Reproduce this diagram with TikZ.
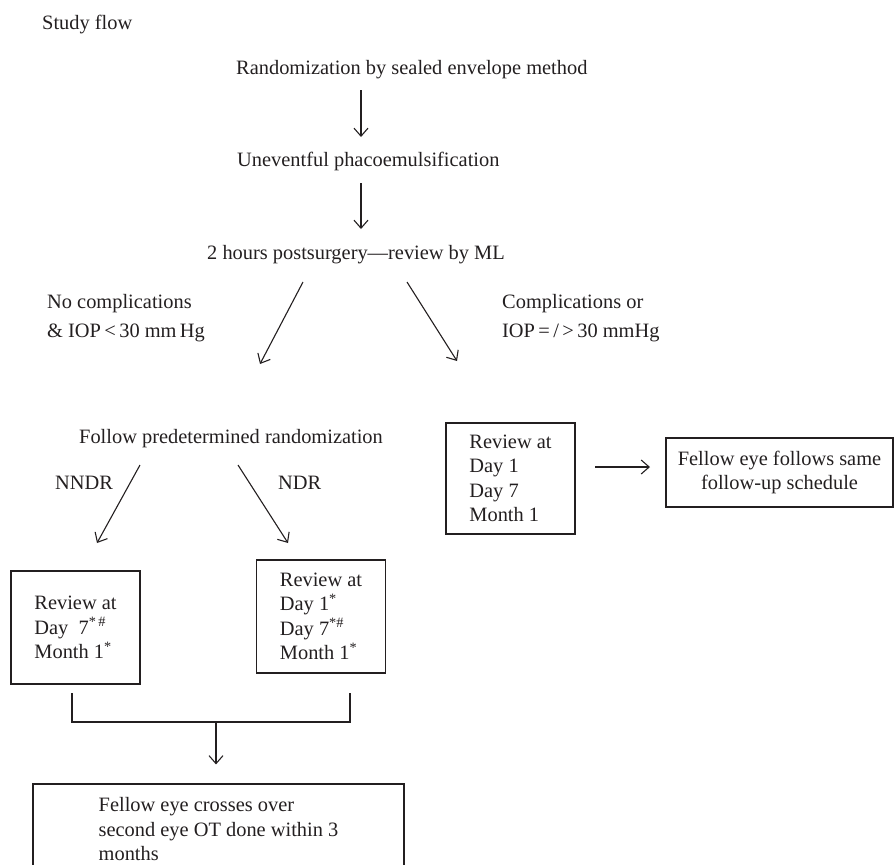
\documentclass[tikz,border=0pt]{standalone}
\usepackage{fontspec}
\setmainfont{Liberation Serif}
\usetikzlibrary{positioning,arrows.meta}
\definecolor{ink}{HTML}{231F20}

\begin{document}
\begin{tikzpicture}[x=1pt,y=-1pt,
every node/.style={inner sep=0pt,text=ink,font=\fontsize{20.4}{24.5}\selectfont},
lbl/.style={anchor=base west},
cond/.style={anchor=west,align=left,font=\fontsize{20.4}{29}\selectfont},
box/.style={draw=ink,line width=1.1pt,align=left,minimum width=129pt},
line/.style={draw=ink,line width=1.1pt},
arr/.style={line,-{Straight Barb[length=8pt,width=14pt]}}]
\useasboundingbox (0,0) rectangle (895,865);

\node[lbl] (title) at (42,29) {Study flow};
\node[lbl] (rand) at (236,74) {Randomization by sealed envelope method};
\node[lbl] (phaco) at (237,166) {Uneventful phacoemulsification};
\node[lbl] (post) at (207,259) {2 hours postsurgery---review by ML};
\node[cond] (nocomp) at (47,318) {No complications\\\& IOP\,<\,30 mm\,Hg};
\node[cond] (comp) at (502,318) {Complications or\\IOP\,=\,/\,>\,30 mmHg};
\node[lbl] (follow) at (79,443) {Follow predetermined randomization};
\node[lbl] (nndr) at (55,489) {NNDR};
\node[lbl] (ndr) at (278,489) {NDR};

\node[box,minimum height=113pt] (revnndr) at (75.5,627.5)
  {Review at\\Day\ \ 7\textsuperscript{*\,\#}\\Month 1\textsuperscript{*}};
\node[box,minimum height=113pt] (revndr) at (321,616.5)
  {Review at\\Day 1\textsuperscript{*}\\Day 7\textsuperscript{*\#}\\Month 1\textsuperscript{*}};
\node[box,minimum height=111pt] (revcomp) at (510.5,478.5)
  {Review at\\Day 1\\Day 7\\Month 1};
\node[box,align=center,minimum width=227pt,minimum height=69pt] (fellow) at (779.5,472.5)
  {Fellow eye follows same\\follow-up schedule};
\node[box,minimum width=371pt,minimum height=91pt] (cross) at (218.5,829.5)
  {Fellow eye crosses over\\second eye OT done within 3\\months};

\coordinate (r1) at (361,90);   \coordinate (r2) at (361,137);
\coordinate (p1) at (361,183);  \coordinate (p2) at (361,229);
\coordinate (ml) at (303,282);  \coordinate (nc) at (260,364);
\coordinate (mr) at (407,282);  \coordinate (cc) at (457,361);
\coordinate (fl) at (140,465);  \coordinate (nn) at (97,543);
\coordinate (fr) at (238,465);  \coordinate (nd) at (288,543);
\coordinate (rc) at (595,467);  \coordinate (fe) at (650,467);
\coordinate (jl) at (72,693);   \coordinate (jr) at (350,693);
\coordinate (jm) at (216,722);

\draw[arr] (r1) -- (r2);
\draw[arr] (p1) -- (p2);
\draw[arr] (ml) -- (nc);
\draw[arr] (mr) -- (cc);
\draw[arr] (fl) -- (nn);
\draw[arr] (fr) -- (nd);
\draw[arr] (rc) -- (fe);
\draw[line] (jl) |- (jm) -| (jr);
\draw[arr] (jm) -- ([yshift=19pt]cross.north -| jm);
\end{tikzpicture}
\end{document}
